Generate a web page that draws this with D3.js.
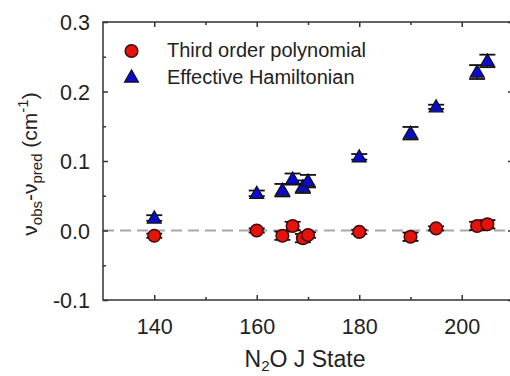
<!DOCTYPE html>
<html>
<head>
<meta charset="utf-8">
<script src="https://cdn.jsdelivr.net/npm/d3@7"></script>
<style>
  html, body { margin: 0; padding: 0; background: #fff; }
  svg { display: block; }
  text { font-family: "Liberation Sans", Arial, sans-serif; fill: #222; }
</style>
</head>
<body>
<svg id="chart" width="510" height="376"></svg>
<script>
// J states and residuals (cm^-1) for the two models
const jPoly = [140, 160, 165, 167, 169, 170, 180, 190, 195, 203, 205];
const resPoly = [-0.0075, 0.0, -0.0075, 0.0065, -0.011, -0.0065, -0.002, -0.009, 0.003, 0.0065, 0.009];
const errPoly = [0.003, 0.003, 0.006, 0.006, 0.006, 0.004, 0.003, 0.006, 0.003, 0.006, 0.006];

const jHam = [140, 160, 165, 167, 169, 170, 180, 190, 195, 203, 205];
const resHam = [0.018, 0.0535, 0.058, 0.074, 0.063, 0.071, 0.106, 0.14, 0.178, 0.228, 0.244];
const errHam = [0.004, 0.004, 0.009, 0.008, 0.009, 0.009, 0.004, 0.009, 0.003, 0.01, 0.009];

const xTicks = [140, 160, 180, 200];
const xMinorTicks = [150, 170, 190];
const yTicks = [-0.1, 0.0, 0.1, 0.2, 0.3];
const yTickLabels = ["-0.1", "0.0", "0.1", "0.2", "0.3"];
const yMinorTicks = [-0.05, 0.05, 0.15, 0.25];
const legendLabels = ["Third order polynomial", "Effective Hamiltonian"];

const svg = d3.select("#chart");
const plotL = 103, plotR = 513, plotT = 22, plotB = 300;

const x = d3.scaleLinear().domain([130, 210]).range([plotL, plotR]);
const y = d3.scaleLinear().domain([-0.1, 0.3]).range([plotB, plotT]);

const axisColor = "#333";
const tickFont = 21.5;

function styleAxis(g) {
  g.select(".domain").remove();
  g.selectAll(".tick line").attr("stroke", axisColor).attr("stroke-width", 1.5);
  g.selectAll(".tick text").attr("font-size", tickFont)
    .attr("font-family", "Liberation Sans, Arial, sans-serif").attr("fill", "#222");
}

// zero reference line
svg.append("line")
  .attr("x1", plotL).attr("x2", plotR)
  .attr("y1", y(0)).attr("y2", y(0))
  .attr("stroke", "#a8a8a8").attr("stroke-width", 2)
  .attr("stroke-dasharray", "11,6");

// axes with inward ticks on all four sides
const yLabelMap = new Map(yTicks.map((v, i) => [v, yTickLabels[i]]));
svg.append("g").attr("transform", `translate(${plotL},0)`)
  .call(d3.axisLeft(y).tickValues(yTicks).tickSize(-5).tickPadding(13)
    .tickFormat(d => yLabelMap.get(d)))
  .call(styleAxis)
  .call(g => g.selectAll(".tick text").attr("dy", "0.36em"));
svg.append("g").attr("transform", `translate(${plotL},0)`)
  .call(d3.axisLeft(y).tickValues(yMinorTicks).tickSize(-3).tickFormat(""))
  .call(styleAxis);
svg.append("g").attr("transform", `translate(${plotR},0)`)
  .call(d3.axisRight(y).tickValues(yTicks).tickSize(-5).tickFormat(""))
  .call(styleAxis);
svg.append("g").attr("transform", `translate(${plotR},0)`)
  .call(d3.axisRight(y).tickValues(yMinorTicks).tickSize(-3).tickFormat(""))
  .call(styleAxis);

svg.append("g").attr("transform", `translate(0,${plotB})`)
  .call(d3.axisBottom(x).tickValues(xTicks).tickSize(-5).tickPadding(19).tickFormat(d3.format("d")))
  .call(styleAxis);
svg.append("g").attr("transform", `translate(0,${plotB})`)
  .call(d3.axisBottom(x).tickValues(xMinorTicks).tickSize(-3).tickFormat(""))
  .call(styleAxis);
svg.append("g").attr("transform", `translate(0,${plotT})`)
  .call(d3.axisTop(x).tickValues(xTicks).tickSize(-5).tickFormat(""))
  .call(styleAxis);
svg.append("g").attr("transform", `translate(0,${plotT})`)
  .call(d3.axisTop(x).tickValues(xMinorTicks).tickSize(-3).tickFormat(""))
  .call(styleAxis);

// frame
svg.append("rect")
  .attr("x", plotL).attr("y", plotT)
  .attr("width", plotR - plotL).attr("height", plotB - plotT)
  .attr("fill", "none").attr("stroke", axisColor).attr("stroke-width", 1.5);

// error bars
function errorBars(js, vals, errs, cls) {
  const data = js.map((j, i) => ({ j, v: vals[i], e: errs[i] }));
  const g = svg.append("g").attr("class", cls);
  const capW = 8;
  g.selectAll("line.v").data(data).join("line").attr("class", "v")
    .attr("x1", d => x(d.j)).attr("x2", d => x(d.j))
    .attr("y1", d => y(d.v + d.e)).attr("y2", d => y(d.v - d.e))
    .attr("stroke", "#111").attr("stroke-width", 1.5);
  g.selectAll("line.t").data(data).join("line").attr("class", "t")
    .attr("x1", d => x(d.j) - capW).attr("x2", d => x(d.j) + capW)
    .attr("y1", d => y(d.v + d.e)).attr("y2", d => y(d.v + d.e))
    .attr("stroke", "#111").attr("stroke-width", 1.8);
  g.selectAll("line.b").data(data).join("line").attr("class", "b")
    .attr("x1", d => x(d.j) - capW).attr("x2", d => x(d.j) + capW)
    .attr("y1", d => y(d.v - d.e)).attr("y2", d => y(d.v - d.e))
    .attr("stroke", "#111").attr("stroke-width", 1.8);
}

errorBars(jHam, resHam, errHam, "err-ham");
errorBars(jPoly, resPoly, errPoly, "err-poly");

const triangle = d3.symbol().type(d3.symbolTriangle).size(85);
const redFill = "#e8120c";
const blueFill = "#0a0ad0";

// Effective Hamiltonian markers
svg.append("g").selectAll("path")
  .data(jHam.map((j, i) => ({ j, v: resHam[i] })))
  .join("path")
  .attr("d", triangle)
  .attr("transform", d => `translate(${x(d.j)},${y(d.v) + 1})`)
  .attr("fill", blueFill).attr("stroke", "#111").attr("stroke-width", 1.2);

// Third order polynomial markers
svg.append("g").selectAll("circle")
  .data(jPoly.map((j, i) => ({ j, v: resPoly[i] })))
  .join("circle")
  .attr("cx", d => x(d.j)).attr("cy", d => y(d.v)).attr("r", 6.3)
  .attr("fill", redFill).attr("stroke", "#3a0a0a").attr("stroke-width", 1.5);

// legend
const lg = svg.append("g");
lg.append("circle").attr("cx", 131.5).attr("cy", 51).attr("r", 6.3)
  .attr("fill", redFill).attr("stroke", "#3a0a0a").attr("stroke-width", 1.5);
lg.append("path").attr("d", triangle).attr("transform", "translate(131.5,78)")
  .attr("fill", blueFill).attr("stroke", "#111").attr("stroke-width", 1.2);
lg.selectAll("text").data(legendLabels).join("text")
  .attr("x", 167).attr("y", (d, i) => 57 + i * 26.5)
  .attr("font-size", 20)
  .text(d => d);

// x axis title: N₂O J State
const xt = svg.append("text")
  .attr("x", 305).attr("y", 367)
  .attr("text-anchor", "middle")
  .attr("font-size", 23);
xt.append("tspan").text("N");
xt.append("tspan").attr("font-size", 15).attr("dy", 4).text("2");
xt.append("tspan").attr("dy", -4).text("O J State");

// y axis title: ν_obs-ν_pred (cm^-1)
const yt = svg.append("text")
  .attr("transform", "translate(37,164) rotate(-90)")
  .attr("text-anchor", "middle")
  .attr("font-size", 21);
yt.append("tspan").text("ν");
yt.append("tspan").attr("font-size", 15).attr("dy", 5).text("obs");
yt.append("tspan").attr("dy", -5).text("-ν");
yt.append("tspan").attr("font-size", 15).attr("dy", 5).text("pred");
yt.append("tspan").attr("dy", -5).text(" (cm");
yt.append("tspan").attr("font-size", 15).attr("dy", -9).text("-1");
yt.append("tspan").attr("dy", 9).text(")");
</script>
</body>
</html>
